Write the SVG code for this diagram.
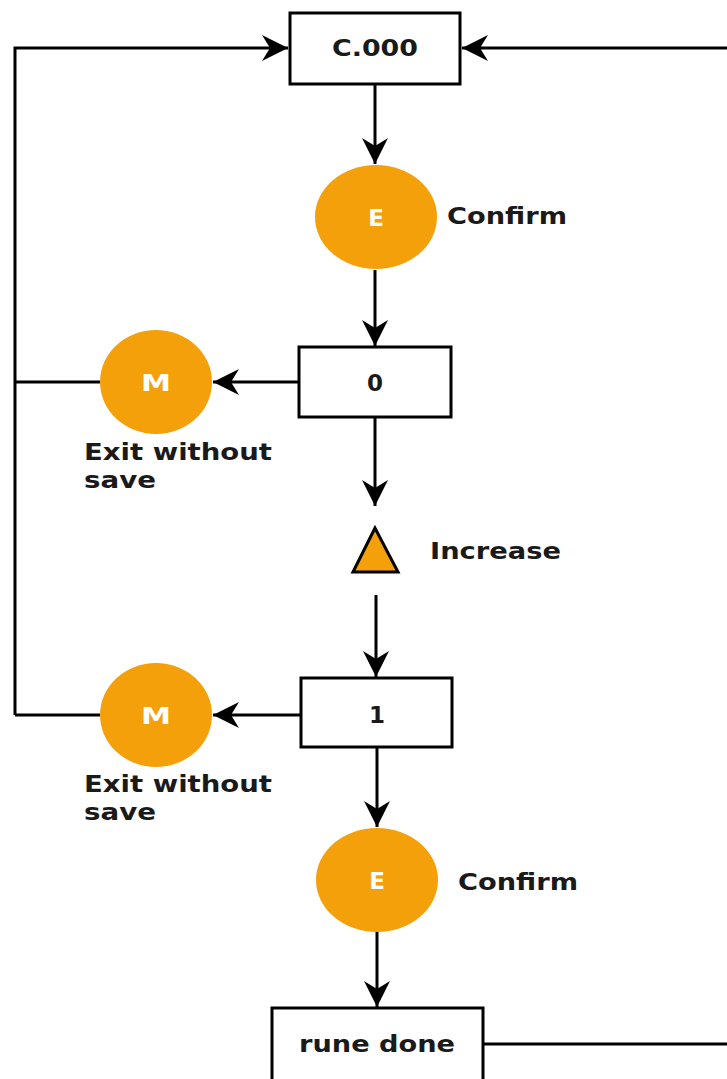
<svg xmlns="http://www.w3.org/2000/svg" width="727" height="1079" viewBox="0 0 727 1079">
<style>
.box{fill:#fff;stroke:#000;stroke-width:3}
.btn{fill:#F4A00B}
.ln{fill:none;stroke:#000;stroke-width:3}
.t{font-family:"DejaVu Sans",Verdana,sans-serif;font-weight:bold;font-size:23px;fill:#1a1a1a}
.c{text-anchor:middle}
.w{fill:#fff}
</style>
<defs>
<marker id="ah" markerUnits="userSpaceOnUse" markerWidth="28" markerHeight="28" refX="26" refY="13" orient="auto">
<path d="M0,0 L26,13 L0,26 L8,13 Z" fill="#000"/>
</marker>
</defs>
<g id="connectors">
<polyline class="ln" points="15,715 15,48 288,48" marker-end="url(#ah)"/>
<line class="ln" x1="727" y1="48" x2="462" y2="48" marker-end="url(#ah)"/>
<line class="ln" x1="375" y1="84" x2="375" y2="164" marker-end="url(#ah)"/>
<line class="ln" x1="375" y1="270" x2="375" y2="346" marker-end="url(#ah)"/>
<line class="ln" x1="299" y1="382" x2="213" y2="382" marker-end="url(#ah)"/>
<line class="ln" x1="100" y1="382" x2="15" y2="382"/>
<line class="ln" x1="375" y1="417" x2="375" y2="506" marker-end="url(#ah)"/>
<line class="ln" x1="376" y1="595" x2="376" y2="677" marker-end="url(#ah)"/>
<line class="ln" x1="301" y1="715" x2="213" y2="715" marker-end="url(#ah)"/>
<line class="ln" x1="100" y1="715" x2="15" y2="715"/>
<line class="ln" x1="377" y1="747" x2="377" y2="827" marker-end="url(#ah)"/>
<line class="ln" x1="377" y1="932" x2="377" y2="1007" marker-end="url(#ah)"/>
<line class="ln" x1="483" y1="1044" x2="727" y2="1044"/>
</g>
<g id="n-c000">
<rect class="box" x="290" y="13" width="170" height="71"/>
<text class="t c" x="375" y="56" textLength="86" lengthAdjust="spacingAndGlyphs">C.000</text>
</g>
<g id="n-e1">
<ellipse class="btn" cx="376" cy="217" rx="61" ry="52"/>
<text class="t c w" x="376" y="226">E</text>
<text class="t" x="447" y="224" textLength="120" lengthAdjust="spacingAndGlyphs">Confirm</text>
</g>
<g id="n-0">
<rect class="box" x="299" y="347" width="152" height="70"/>
<text class="t c" x="375" y="391">0</text>
</g>
<g id="n-m1">
<ellipse class="btn" cx="156" cy="382" rx="56" ry="52"/>
<text class="t c w" x="156" y="391" textLength="30" lengthAdjust="spacingAndGlyphs">M</text>
<text class="t" x="84" y="460" textLength="188" lengthAdjust="spacingAndGlyphs">Exit without</text>
<text class="t" x="84" y="488" textLength="72" lengthAdjust="spacingAndGlyphs">save</text>
</g>
<g id="n-inc">
<polygon points="375,528 353,572 398,572" fill="#F4A00B" stroke="#000" stroke-width="3" stroke-linejoin="miter"/>
<text class="t" x="430" y="559" textLength="131" lengthAdjust="spacingAndGlyphs">Increase</text>
</g>
<g id="n-1">
<rect class="box" x="301" y="678" width="151" height="69"/>
<text class="t c" x="377" y="723">1</text>
</g>
<g id="n-m2">
<ellipse class="btn" cx="156" cy="715" rx="56" ry="52"/>
<text class="t c w" x="156" y="724" textLength="30" lengthAdjust="spacingAndGlyphs">M</text>
<text class="t" x="84" y="792" textLength="188" lengthAdjust="spacingAndGlyphs">Exit without</text>
<text class="t" x="84" y="820" textLength="72" lengthAdjust="spacingAndGlyphs">save</text>
</g>
<g id="n-e2">
<ellipse class="btn" cx="377" cy="880" rx="61" ry="52"/>
<text class="t c w" x="377" y="889">E</text>
<text class="t" x="458" y="890" textLength="120" lengthAdjust="spacingAndGlyphs">Confirm</text>
</g>
<g id="n-done">
<rect class="box" x="272" y="1008" width="211" height="80"/>
<text class="t c" x="377" y="1052" textLength="156" lengthAdjust="spacingAndGlyphs">rune done</text>
</g>
</svg>
